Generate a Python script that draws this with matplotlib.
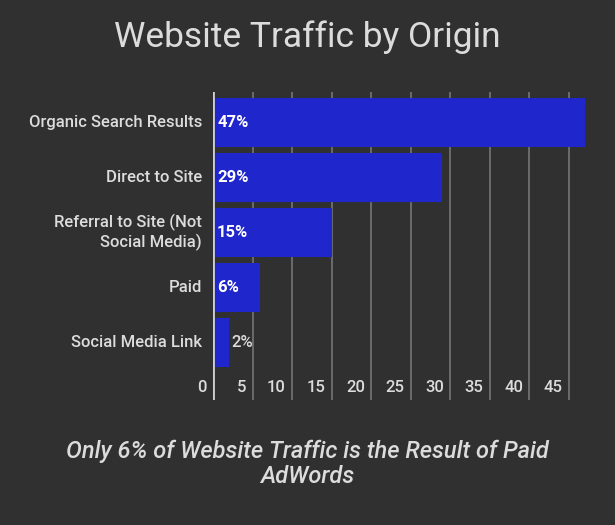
import matplotlib
matplotlib.use("Agg")
import matplotlib.pyplot as plt

categories = ["Organic Search Results", "Direct to Site",
              "Referral to Site (Not\nSocial Media)", "Paid", "Social Media Link"]
values = [47, 29, 15, 6, 2]
bar_labels = ["47%", "29%", "15%", "6%", "2%"]
xticks = [0, 5, 10, 15, 20, 25, 30, 35, 40, 45]

BG = "#303030"
TXT = "#dcdcdc"
BAR = "#1f26cc"
GRID = "#707070"

plt.rcParams['font.family'] = ['Roboto', 'DejaVu Sans']

W, H = 615, 525
fig = plt.figure(figsize=(W / 100, H / 100), dpi=100, facecolor=BG)
x0, x1 = 213, 604.6
y_top, y_bot = 92, 400
ax = fig.add_axes([x0 / W, (H - y_bot) / H, (x1 - x0) / W, (y_bot - y_top) / H])
ax.set_facecolor(BG)

pitch = 55.0
c0 = 122.5
ax.set_xlim(0, 49.5)
ax.set_ylim((y_bot - c0) / pitch, -(c0 - y_top) / pitch)

for t in xticks[1:]:
    ax.axvline(t, color=GRID, lw=1.3, zorder=0)
ax.axvline(0, color="#cfcfcf", lw=2, zorder=3)

ypos = list(range(len(categories)))
ax.barh(ypos, values, height=49 / pitch, color=BAR, zorder=2)

FS = 12
for y, v, lab in zip(ypos, values, bar_labels):
    if v >= 5:
        ax.annotate(lab, (0, y), xytext=(3, 0), textcoords="offset points",
                    ha="left", va="center", color="white", fontsize=FS,
                    fontweight="bold", zorder=4)
    else:
        ax.annotate(lab, (v, y), xytext=(2, 0), textcoords="offset points",
                    ha="left", va="center", color=TXT, fontsize=FS,
                    fontweight="medium", zorder=4)

for y, cat in zip(ypos, categories):
    ax.annotate(cat, (0, y), xytext=(-8, 0), textcoords="offset points",
                ha="right", va="center", color=TXT, fontsize=FS,
                fontweight="medium", linespacing=1.2, annotation_clip=False)

tick_y = (388 - c0) / pitch
for t in xticks:
    ax.annotate(str(t), (t, tick_y), xytext=(-4.5, 0), textcoords="offset points",
                ha="right", va="center", color=TXT, fontsize=FS,
                fontweight="medium", annotation_clip=False)

ax.set_xticks([])
ax.set_yticks([])
for s in ax.spines.values():
    s.set_visible(False)

fig.text(0.5, 1 - 37 / H, "Website Traffic by Origin", ha="center", va="center",
         color=TXT, fontsize=25.5)
fig.text(0.5, 1 - 464 / H, "Only 6% of Website Traffic is the Result of Paid\nAdWords",
         ha="center", va="center", color=TXT, fontsize=17, fontstyle="italic",
         fontweight="medium", linespacing=1.1)

fig.savefig("out.png", dpi=100, facecolor=BG)
